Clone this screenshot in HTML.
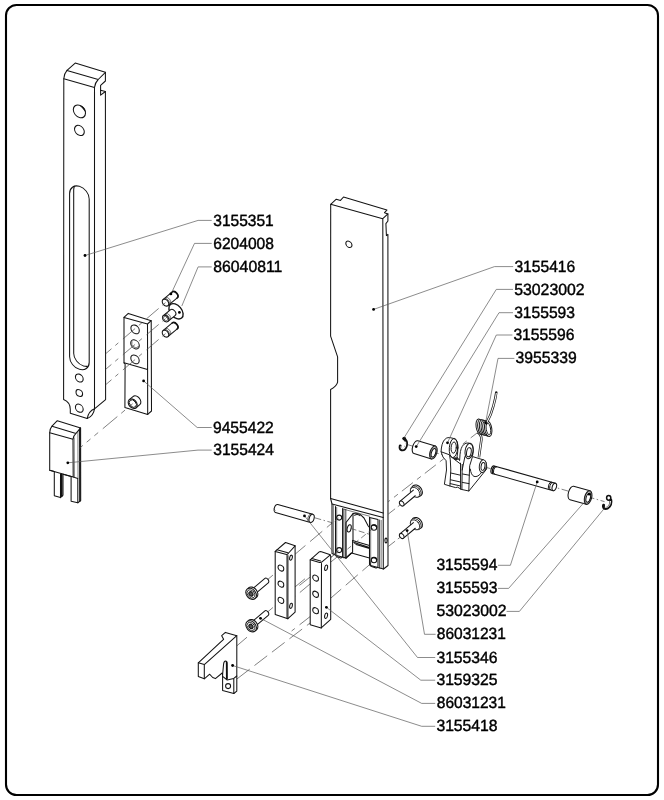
<!DOCTYPE html>
<html>
<head>
<meta charset="utf-8">
<title>Exploded view</title>
<style>
html,body{margin:0;padding:0;background:#fff;}
body{width:664px;height:800px;overflow:hidden;font-family:"Liberation Sans",sans-serif;}
svg{display:block;filter:grayscale(1);}
.p{fill:#fff;stroke:#141414;stroke-width:1.05;stroke-linejoin:round;stroke-linecap:round;}
.l{fill:none;stroke:#141414;stroke-width:1.05;stroke-linejoin:round;stroke-linecap:round;}
.t{fill:none;stroke:#2a2a2a;stroke-width:0.6;stroke-linecap:round;}
.k{fill:none;stroke:#111;stroke-width:1.6;stroke-linecap:round;stroke-linejoin:round;}
.ld{fill:none;stroke:#5a5a5a;stroke-width:0.7;}
.ds{fill:none;stroke:#4a4a4a;stroke-width:0.7;stroke-dasharray:16 6;}
.dd{fill:none;stroke:#4a4a4a;stroke-width:0.7;stroke-dasharray:7 2.5 1.5 2.5;}
.dot{fill:#000;stroke:none;}
#lever .p,#lever .l{stroke-width:0.95;}
text{font-family:"Liberation Sans",sans-serif;font-size:16.2px;fill:#000;stroke:#000;stroke-width:0.42;text-rendering:geometricPrecision;}
</style>
</head>
<body>
<svg width="664" height="800" viewBox="0 0 664 800">
<rect x="0" y="0" width="664" height="800" fill="#fff"/>
<rect x="6" y="5" width="652" height="790" rx="10.5" ry="10.5" fill="#fff" stroke="#000" stroke-width="2.1"/>

<!-- ===== DASHED ASSEMBLY LINES ===== -->
<g id="dashes">

<path class="dd" d="M314.4,517.7 L331,522.4 L349,527.8 L369.4,534.2"/>
<path class="ds" d="M373.6,527.8 L353.4,544" style="stroke-dashoffset:4"/>
<path class="ds" d="M339.1,517.1 L292,556.8"/>
<path class="ds" d="M339.1,550.9 L293.7,588"/>
<path class="ds" d="M374.5,527 L329.6,563"/>
<path class="ds" d="M374.5,560.4 L330.6,598.3"/>
<path class="ds" d="M310.4,576.8 L295.4,588.6" style="stroke-dashoffset:2"/>
<path class="ds" d="M310.6,583.5 L291.6,599.4" style="stroke-dashoffset:2"/>
<path class="dd" d="M267.6,579.6 L275.4,573"/>
<path class="dd" d="M267.6,612 L275.4,605.4"/>
<path class="ds" d="M237,645.7 L247,637.2"/>
<path class="ds" d="M237,678.9 L310.6,622.6"/>
<path class="ds" d="M310.6,616.2 L291.6,631" style="stroke-dashoffset:2"/>

<path class="dd" d="M406,444.2 L604.5,501.6"/>
<path class="ds" d="M477,433 L388.4,501.6" style="stroke-dasharray:14 5 5 5;stroke-dashoffset:6"/>
<path class="ds" d="M401,504.2 L388.4,514" style="stroke-dasharray:4 3.5 12"/>
<path class="ds" d="M401,536.6 L388.4,546.4" style="stroke-dasharray:4 3.5 12"/>

</g>

<!-- ===== PARTS ===== -->
<g id="parts">

<!-- ===== BAR 3155351 ===== -->
<g id="bar">
<path class="p" d="M63.8,78.8 Q64.2,73.4 67,70.4 L75.2,63.1 L105.4,72.3 L105.4,81 L100.6,85.3 L100.6,95.2 L105.4,91.5 L105.6,399.6 L94.5,408.8 Q88.6,411.2 87.2,418.5 L70.3,413.3 L70.3,409.6 Q70.3,402.2 63.6,399.6 Z"/>
<path class="l" d="M67,70.4 L98.2,79.5 L105.4,72.3 M63.8,78.8 L94.5,87.5 Q95.2,82.4 98.2,79.5 M94.5,87.5 L94.5,408.8 M100.6,90.2 L105.4,91.5"/>
<path class="l" d="M94.5,408.8 Q93.4,416 87.2,418.5"/>
<clipPath id="slotc"><path transform="translate(63.8,78.8) skewY(16.2)" d="M5.8,112.8 A9.8,9.8 0 0 1 25.4,112.8 L25.4,276.2 A9.8,9.8 0 0 1 5.8,276.2 Z"/></clipPath>
<g clip-path="url(#slotc)"><path class="l" transform="translate(67.9,75.4) skewY(16.2)" d="M5.8,112.8 A9.8,9.8 0 0 1 25.4,112.8 L25.4,276.2 A9.8,9.8 0 0 1 5.8,276.2 Z"/></g>
<g transform="translate(63.8,78.8) skewY(16.2)">
<path class="l" d="M5.8,112.8 A9.8,9.8 0 0 1 25.4,112.8 L25.4,276.2 A9.8,9.8 0 0 1 5.8,276.2 Z"/>
<circle class="l" cx="15.6" cy="28" r="6.1"/>
<circle class="l" cx="15.6" cy="47.1" r="4.9"/>
<circle class="l" cx="15.5" cy="294.7" r="3.9"/>
<circle class="l" cx="15.5" cy="309.7" r="3.3"/>
<circle class="l" cx="15.5" cy="324.9" r="3.9"/>
</g>
<path d="M80,105.5 Q84.8,106.6 85.3,111.6 Q82.4,107.6 80,105.5 Z" fill="#111" stroke="#111" stroke-width="0.6" stroke-linejoin="round"/>
</g>

<!-- ===== PLATE 9455422 ===== -->
<g id="plate">
<path class="p" d="M124,317.4 L128.3,313.4 L151.2,320.7 L151.5,411 L147.7,414.4 L124.9,407.5 L125.1,364 L124,362.8 Z"/>
<path class="l" d="M124,317.4 L147.5,324 L151.2,320.7 M147.5,324 L147.7,414.4 M124,362.8 L147.5,369.5"/>
<g transform="translate(124,317.4) skewY(16.2)">
<circle class="l" cx="11.1" cy="8.7" r="4.2"/>
<circle class="l" cx="11" cy="23.8" r="4.3"/>
<path class="t" d="M7.9,22 A3.4,3.4 0 1 0 14.6,24.6"/>
<circle class="l" cx="11" cy="38.8" r="4.2"/>
</g>
</g>


<!-- boss on plate -->
<g id="boss" transform="translate(132.7,403.7) rotate(-40)">
<path class="p" d="M0,-5.3 L4.8,-5.3 A3.8,5.3 0 0 1 4.8,5.3 L0,5.3 Z"/>
<ellipse class="p" cx="0" cy="0" rx="3.9" ry="5.3"/>
<ellipse class="t" cx="0.2" cy="0" rx="3" ry="4.2" style="stroke-width:0.9;stroke:#141414"/>
</g>

<!-- ===== SET SCREWS 6204008 / 86040811 ===== -->
<g id="ss1" transform="translate(165.5,302.6) rotate(-39.7)">
<path class="p" d="M0,-3.9 L11.6,-3.9 A2.8,3.9 0 0 1 11.6,3.9 L0,3.9 Z"/>
<path class="k" d="M11.9,-3.9 A2.8,3.9 0 0 1 11.9,3.9" style="stroke-width:1.6"/>
<ellipse class="p" cx="0" cy="0" rx="2.8" ry="3.9"/>
<path class="t" d="M1.6,-3.8 A2.8,3.9 0 0 1 1.6,3.8 M2.6,-3.9 A2.8,3.9 0 0 1 2.6,3.9"/>
</g>
<g id="ss2">
<g transform="translate(176,311.3) rotate(-39.7)">
<ellipse class="p" cx="0" cy="0" rx="5.7" ry="8.8" style="stroke-width:1.4"/>
</g>
<g transform="translate(165.6,318.6) rotate(-39.7)">
<path class="p" d="M0,-3.7 L9.2,-3.7 A2.7,3.7 0 0 1 9.2,3.7 L0,3.7 Z"/>
<ellipse class="p" cx="0" cy="0" rx="2.7" ry="3.7"/>
<path class="t" d="M1.6,-3.6 A2.7,3.7 0 0 1 1.6,3.6 M2.6,-3.7 A2.7,3.7 0 0 1 2.6,3.7"/>
<ellipse class="t" cx="0" cy="0" rx="1.8" ry="2.5"/>
</g>
</g>
<g id="ss3" transform="translate(165.5,333.6) rotate(-39.7)">
<path class="p" d="M0,-3.9 L11.6,-3.9 A2.8,3.9 0 0 1 11.6,3.9 L0,3.9 Z"/>
<path class="k" d="M11.9,-3.9 A2.8,3.9 0 0 1 11.9,3.9" style="stroke-width:1.6"/>
<ellipse class="p" cx="0" cy="0" rx="2.8" ry="3.9"/>
<path class="t" d="M1.6,-3.8 A2.8,3.9 0 0 1 1.6,3.8 M2.6,-3.9 A2.8,3.9 0 0 1 2.6,3.9"/>
</g>


<!-- ===== MAIN BAR 3155416 ===== -->
<g id="mainbar">
<path class="p" d="M330.7,204.3 L336.3,199.2 L340.5,200.4 L343.5,197 L386.9,210.1 L384.5,212.7 L387.9,213.9 L387.9,221 L385.9,223.6 L386.4,235.6 L387.9,234.4 L388,565.5 L383.5,569 L370.6,565.6 L369.5,558 L351.5,553 L346,558 L336.6,555.6 L332,553.6 L332,504 L330.6,498.5 L330.6,389.5 Q336.6,386.6 337.6,382.2 L337.6,356.9 L330.6,336.1 Z"/>
<path class="l" d="M330.7,204.3 L382.8,218.7 L387.9,213.9 M382.8,218.7 L383.3,569"/>
<circle class="l" cx="0" cy="0" r="3.1" transform="translate(348.9,244.3) skewY(16.2)"/>
<!-- bottom section -->
<path class="l" d="M330.6,498.5 L383.2,513 M332,504 L383.2,517.5"/>
<path class="t" d="M333.4,505 L333.5,554.4"/>
<!-- left rail -->
<path class="l" d="M335.5,506.4 L335.5,554.6 Q335.8,556.4 337.6,557 L340.6,557.9 Q342.6,558 342.6,556 L342.6,508.6"/>
<path class="t" d="M336.7,507.4 L336.7,555.4"/>
<path class="l" d="M343.9,509 L343.9,558" style="stroke-width:0.8"/><path class="l" d="M345.8,509.4 L345.8,558.2" style="stroke-width:0.8"/>
<circle class="l" cx="339.2" cy="517.6" r="2.5"/>
<circle class="l" cx="339.2" cy="550.1" r="2.5"/>
<!-- cavity top back edge -->
<path class="t" d="M343.7,509.2 L369.5,516.2"/>
<!-- center bracket -->
<path class="l" d="M346,558 L346,522.5 L353,513.6 Q357,512.4 360.4,514.6 L364,518 L368.2,526 L369.5,527.4"/>
<path class="l" d="M353,513.8 L353,540.2 M354.6,515.2 Q357.4,513.8 360,515.6"/>
<path class="l" d="M352.6,540.4 L369.5,545.4 M354,542.6 L369.5,547.4 M356,544.4 L369.5,548.6"/>
<path class="l" d="M352.6,540.4 L352.6,552.6 M351.5,553 L346,558"/>
<path class="t" d="M352.8,541 Q353.2,543.4 355.4,543.6"/>
<ellipse class="l" cx="349.2" cy="528.4" rx="1.9" ry="3.7" transform="rotate(14 349.2 528.4)"/>
<!-- right rail -->
<path class="l" d="M369.5,517.4 L369.5,564.4 Q369.8,566 371.6,566.6 L376,567.9 Q378,568 378,566 L378,519.6 Z"/>
<path class="t" d="M370.7,518.6 L370.7,565.6"/>
<path class="l" d="M379.6,520 L379.6,568" style="stroke-width:0.8"/><path class="t" d="M381.2,520.4 L381.2,568.4"/>
<circle class="l" cx="374" cy="527.5" r="2.7"/>
<circle class="l" cx="374" cy="560.1" r="2.7"/>
<path class="k" d="M372.2,525.4 Q375.4,524.2 376.7,527" style="stroke-width:1.3"/>
<path class="k" d="M372.2,558 Q375.4,556.8 376.7,559.6" style="stroke-width:1.3"/>
<ellipse class="l" cx="386" cy="540.5" rx="1.1" ry="2.4"/>
</g>


<!-- ===== CLIP 1 (53023002) ===== -->
<g id="clip1">
<path d="M404,438.6 Q407.4,441 406.4,445.6 Q405,450.4 401.8,449.8 Q399.6,449 400.2,446" fill="none" stroke="#111" stroke-width="2.9" stroke-linecap="round"/>
<path d="M405.6,442 Q406,443.8 405.4,445.8 Q404.4,449.2 402,448.8 Q400.8,448.2 401,446.6" fill="none" stroke="#fff" stroke-width="1.1" stroke-linecap="round"/>
<circle cx="404.2" cy="438.6" r="1.8" fill="#111"/>
</g>

<!-- ===== BUSHING 1 (3155593) ===== -->
<g id="bush1" transform="translate(415.9,447.2) rotate(16.8)">
<path class="p" d="M0,-6.7 L18.3,-6.7 L18.3,6.7 L0,6.7 A3.3,6.7 0 0 1 0,-6.7 Z"/>
<ellipse class="p" cx="18.3" cy="0" rx="3.4" ry="6.7"/>
<ellipse class="t" cx="18.1" cy="0" rx="2.8" ry="5.7"/>
<ellipse class="l" cx="18.5" cy="0.2" rx="2.1" ry="4.4"/>
</g>

<!-- ===== SPRING (3955339) ===== -->
<g id="spring">
<path d="M477.6,432.4 Q481.6,434.6 481.4,439.6 L478.9,457.4" fill="none" stroke="#1a1a1a" stroke-width="2.5" stroke-linecap="butt"/>
<path d="M477.6,432.4 Q481.6,434.6 481.4,439.6 L478.9,457.6" fill="none" stroke="#fff" stroke-width="1.05" stroke-linecap="butt"/>
<g class="p" style="stroke-width:0.95">
<ellipse cx="479.6" cy="426.7" rx="3.5" ry="7.8" transform="rotate(-9 479.6 426.7)"/>
<ellipse cx="481.3" cy="427.1" rx="3.5" ry="7.8" transform="rotate(-9 481.3 427.1)"/>
<ellipse cx="483" cy="427.5" rx="3.5" ry="7.8" transform="rotate(-9 483 427.5)"/>
<ellipse cx="484.7" cy="427.9" rx="3.5" ry="7.8" transform="rotate(-9 484.7 427.9)"/>
<ellipse cx="486.4" cy="428.3" rx="3.5" ry="7.8" transform="rotate(-9 486.4 428.3)"/>
<ellipse cx="488.2" cy="428.7" rx="3.6" ry="7.9" transform="rotate(-9 488.2 428.7)"/>
</g>
<ellipse class="l" cx="488.4" cy="428.9" rx="2.2" ry="5.9" transform="rotate(-9 488.4 428.9)" style="stroke-width:0.9"/>
<path d="M486.4,423.4 Q491.4,414.4 493.4,406 Q495.6,398 496.3,392.4" fill="none" stroke="#1a1a1a" stroke-width="2.5" stroke-linecap="round"/>
<path d="M486.6,423 Q491.4,414.4 493.4,406 Q495.6,398 496.3,393" fill="none" stroke="#fff" stroke-width="1.05" stroke-linecap="butt"/>
</g>

<!-- ===== LEVER (3155596) ===== -->
<g id="lever">
<path class="p" d="M441.1,451.4 Q441.4,443.6 444.4,439.8 Q446.6,437.2 449.4,437.5 L453.4,438.4 Q457.6,439.6 457.9,446 Q458,452 457,457 L459.6,460.6 L460,454.8 Q460.6,447.6 463.6,444.6 Q466,442.6 468.4,443 L470,443.5 Q473.4,444.8 473.3,450 Q473.2,454 472.3,456.5 L483.2,459.8 Q486.8,461.2 486.7,466 L486.6,469.1 L468.9,491 L461.3,489.4 L457.7,487.2 L455.6,487.6 L449.9,486 L444.4,484.3 L446.5,470 L446.1,460.7 L443.2,457.3 Z"/>
<!-- arm + boss -->
<path class="l" d="M481.5,472.5 Q478,477.6 474,476.4 Q471,475 470.3,469.1"/>
<ellipse class="p" cx="482.8" cy="466.2" rx="3.5" ry="6.4" transform="rotate(8 482.8 466.2)"/>
<ellipse class="l" cx="483" cy="466.4" rx="1.9" ry="4" transform="rotate(8 483 466.4)"/>
<!-- right lug -->
<ellipse class="l" cx="469.1" cy="451" rx="4" ry="7.8" transform="rotate(9 469.1 451)"/>
<ellipse class="l" cx="468.9" cy="452.2" rx="2.3" ry="4.6" transform="rotate(9 468.9 452.2)"/>
<path class="l" d="M464.9,456.6 L463.4,464 L462.2,470 M472.3,457.3 L469.7,465.7 L469.3,475 L468.8,491"/>
<path class="l" d="M462.6,474 L469.3,475.2 M462.3,482.4 L469,483.6"/>
<!-- centre double vertical -->
<path class="l" d="M460.5,463.2 L460.6,489.2 M462.2,464.4 L461.9,489.6"/>
<!-- left lug -->
<ellipse class="l" cx="453.5" cy="448" rx="4.2" ry="9.6" transform="rotate(5 453.5 448)"/>
<ellipse class="l" cx="453.7" cy="447.6" rx="2.6" ry="5.6" transform="rotate(5 453.7 447.6)"/>
<path class="l" d="M441.2,451.8 L449.5,454.8 L450.3,459.8 L450.8,470 L449.9,486"/>
<path class="l" d="M450.6,456.4 L460.5,464"/>
<path class="l" d="M450.8,473 L460.5,475.2 M450.6,479.8 L460.5,482 M450.2,483.6 L460.5,486"/>
<path d="M452.6,457.4 L457,457.2 L458.6,459.4 L455.6,460.2 Z" fill="#222" stroke="none"/>
</g>

<!-- ===== PIN (3155594) ===== -->
<g id="pin94" transform="translate(493.1,469.7) rotate(15.7)">
<path class="p" d="M0,-3.9 L63.6,-3.9 L63.6,3.9 L0,3.9 A2,3.9 0 0 1 0,-3.9 Z"/>
<ellipse class="p" cx="63.6" cy="0" rx="2.1" ry="3.9"/>
<path class="l" d="M2.6,-3.9 A2,3.9 0 0 0 2.6,3.9 M59.6,-3.9 A2,3.9 0 0 0 59.6,3.9 M61,-3.9 A2,3.9 0 0 0 61,3.9" style="stroke-width:0.9"/>
<path class="k" d="M0.8,-3.7 A2,3.9 0 0 0 0.8,3.7" style="stroke-width:1.3"/>
</g>

<!-- ===== BUSHING 2 (3155593) ===== -->
<g id="bush2" transform="translate(571.8,493.1) rotate(15.2)">
<path class="p" d="M0,-7 L16.9,-7 L16.9,7 L0,7 A3.4,7 0 0 1 0,-7 Z"/>
<ellipse class="p" cx="16.9" cy="0" rx="3.5" ry="7"/>
<ellipse class="t" cx="16.7" cy="0" rx="2.9" ry="6"/>
<ellipse class="l" cx="17.1" cy="0.2" rx="2.1" ry="4.6"/>
</g>

<!-- ===== CLIP 2 (53023002) ===== -->
<g id="clip2">
<path d="M610.8,500 Q611.4,503.6 609.4,506.4 Q607.4,509 604.6,508.4 Q603,507.4 603.6,505.2" fill="none" stroke="#111" stroke-width="2.9" stroke-linecap="round"/>
<path d="M610.6,501.4 Q610.4,504.6 608.4,506.6 Q606.8,507.8 605.2,507.4" fill="none" stroke="#fff" stroke-width="0.9" stroke-linecap="round"/>
<ellipse cx="608.7" cy="497.8" rx="2.1" ry="2.4" fill="#fff" stroke="#111" stroke-width="1.5"/>
</g>

<!-- ===== BOLTS 86031231 (right pair) ===== -->
<g id="boltA" transform="translate(401.7,503.5) rotate(-40)">
<ellipse class="p" cx="20.2" cy="0" rx="4.4" ry="6.3"/>
<ellipse class="p" cx="18.6" cy="0" rx="4.4" ry="6.3" style="stroke-width:0.8"/>
<ellipse class="p" cx="17.4" cy="0" rx="4" ry="5.6" style="stroke-width:0.8"/>
<path class="p" d="M0,-2.8 L17,-2.8 L17,2.8 L0,2.8 Z" style="stroke:none"/>
<path class="l" d="M0,-2.8 L17.6,-2.8 M0,2.8 L15.4,2.8"/>
<ellipse class="p" cx="0" cy="0" rx="2" ry="2.8"/>
</g>
<g id="boltB" transform="translate(401.7,536) rotate(-40)">
<ellipse class="p" cx="20.2" cy="0" rx="4.4" ry="6.3"/>
<ellipse class="p" cx="18.6" cy="0" rx="4.4" ry="6.3" style="stroke-width:0.8"/>
<ellipse class="p" cx="17.4" cy="0" rx="4" ry="5.6" style="stroke-width:0.8"/>
<path class="p" d="M0,-2.8 L17,-2.8 L17,2.8 L0,2.8 Z" style="stroke:none"/>
<path class="l" d="M0,-2.8 L17.6,-2.8 M0,2.8 L15.4,2.8"/>
<ellipse class="p" cx="0" cy="0" rx="2" ry="2.8"/>
</g>


<!-- ===== PIN 3155346 ===== -->
<g id="pin46" transform="translate(276.6,508.5) rotate(15.8)">
<path class="p" d="M0,-4.2 L36.4,-4.2 L36.4,4.2 L0,4.2 A2.3,4.2 0 0 1 0,-4.2 Z"/>
<ellipse class="p" cx="36.4" cy="0" rx="2.4" ry="4.2"/>
<path class="t" d="M35,-4.2 A2.4,4.2 0 0 0 35,4.2"/>
<path class="t" d="M-2.1,1.2 L-1,2.2"/>
</g>

<!-- ===== BLOCK A (3159325) ===== -->
<g id="blockA">
<path class="p" d="M275.2,551.4 L285.5,542.5 L295.1,545.8 L295.1,612.1 L287.9,618.7 L275.2,614.5 Z"/>
<path class="l" d="M275.2,551.4 L286.6,554.6 Q288,554.4 288.6,553 L295.1,545.8 M287.9,555.4 L287.9,618.7 M277,549.8 L287.8,552.8" />
<path class="l" d="M286.9,555 L286.9,618.2" style="stroke-width:0.8"/>
<g transform="translate(275.2,551.4) skewY(16.2)">
<circle class="l" cx="5.7" cy="15" r="2.9"/>
<circle class="l" cx="5.7" cy="31.1" r="2.9"/>
<circle class="l" cx="5.7" cy="47.3" r="2.9"/>
</g>
<ellipse class="l" cx="291" cy="557.7" rx="1.3" ry="2.6" transform="rotate(12 291 557.7)"/>
<ellipse class="l" cx="291" cy="605.8" rx="1.3" ry="2.6" transform="rotate(12 291 605.8)"/>
</g>

<!-- ===== BLOCK B (3159325) ===== -->
<g id="blockB">
<path class="p" d="M310.2,559.8 L319.2,551.9 Q320,551.4 321.4,551.8 L329.6,554.4 Q330.7,554.8 330.7,556.4 L330.7,619.3 L321.2,627.9 L310.2,624.8 Z"/>
<path class="l" d="M310.2,559.8 L319.6,562.4 Q321.4,562.6 322.6,561.4 L330.3,554.8 M321.5,563.4 L321.3,627.9 M311.8,558.4 L320.6,560.9"/>
<g transform="translate(310.2,559.8) skewY(16.2)">
<circle class="l" cx="5.4" cy="16.7" r="2.9"/>
<circle class="l" cx="5.4" cy="32.9" r="2.9"/>
<circle class="l" cx="5.4" cy="49.3" r="2.9"/>
</g>
<ellipse class="l" cx="326.1" cy="567.8" rx="1.4" ry="2.8" transform="rotate(12 326.1 567.8)"/>
<ellipse class="l" cx="326.1" cy="615.7" rx="1.4" ry="2.8" transform="rotate(12 326.1 615.7)"/>
</g>

<!-- ===== BOLTS 86031231 (left pair) ===== -->
<g id="boltC" transform="translate(251.1,593.8) rotate(-40.6)">
<path class="p" d="M3,-2.8 L20.2,-2.8 A2,2.8 0 0 1 20.2,2.8 L3,2.8 Z"/>
<ellipse class="p" cx="1.9" cy="0" rx="4.6" ry="6.2"/>
<ellipse class="p" cx="0" cy="0" rx="4.6" ry="6.2"/>
<ellipse class="l" cx="-0.2" cy="0" rx="3.4" ry="4.6" style="stroke-width:0.8"/>
<ellipse cx="-0.2" cy="0" rx="1.8" ry="2.4" fill="#555" stroke="#111" stroke-width="1"/>
</g>
<g id="boltD" transform="translate(251.1,626.3) rotate(-40.6)">
<path class="p" d="M3,-2.8 L20.2,-2.8 A2,2.8 0 0 1 20.2,2.8 L3,2.8 Z"/>
<ellipse class="p" cx="1.9" cy="0" rx="4.6" ry="6.2"/>
<ellipse class="p" cx="0" cy="0" rx="4.6" ry="6.2"/>
<ellipse class="l" cx="-0.2" cy="0" rx="3.4" ry="4.6" style="stroke-width:0.8"/>
<ellipse cx="-0.2" cy="0" rx="1.8" ry="2.4" fill="#555" stroke="#111" stroke-width="1"/>
</g>

<!-- ===== BRACKET 3155418 ===== -->
<g id="bracket18">
<path class="p" d="M225.4,632.4 L236.8,635.7 L236.8,691.1 L233.8,693.5 L222.6,690.5 L222.6,674.4 L222.2,673 L215.4,678.6 Q212.4,678 209.7,674.2 L204.3,678.8 L198.3,676.6 L198.3,662.8 L221.1,641.7 L223.6,639.3 L221.7,635.7 Z"/>
<path class="l" d="M236.8,635.7 L204.3,664.6 L198.3,662.8 M204.3,664.6 L204.3,678.8"/>
<path class="l" d="M222.6,674.4 L223.6,664 Q223.9,661.2 225.6,661 Q227,661 227.1,663.6 L227.2,679"/>
<path class="k" d="M226.6,662 L226.7,678.6" style="stroke-width:1.5"/>
<path class="l" d="M222.6,676.4 L227.2,680 L230.4,679.2 L233.8,678.4 L233.8,693.5 M233.8,678.4 L236.8,676"/>
<circle class="l" cx="228.1" cy="686.1" r="2.5"/>
</g>

<!-- ===== BLOCK 3155424 ===== -->
<g id="block24">
<path class="p" d="M49.7,432.7 Q49.9,428.6 52,426.2 L57.3,420.7 L80.6,427.9 L80.7,500.6 L77.8,502.7 L71.1,501.2 L71.1,476.5 L63,474.2 L63,495.2 L60.5,497.6 L54.3,495.8 L54.3,471.6 L49.7,470.2 Z"/>
<path class="l" d="M52,426.2 L76,433.4 L80.6,427.9 M49.7,432.7 L73,439.3 Q73.6,435.4 76,433.4 M73,439.3 L73.2,477.1 M49.7,470.2 L73.2,477.1 M60.5,474 L60.5,497.6 M77.8,478.4 L77.8,502.7 M73.2,477.1 L77.8,478.4"/>
<path class="t" d="M77.9,431.4 L78,478.4"/><path class="l" d="M79.8,429 L79.9,501" style="stroke-width:1.5"/>
<path class="t" d="M74.2,438 L74.4,477.4"/>
<path class="k" d="M61.7,474.4 L61.8,496.2"/>
</g>
</g>


<!-- dashes drawn over parts -->
<g id="dashes2">
<path class="ds" d="M165.5,302.6 L105.8,353.6" style="stroke-dasharray:4 5 16 6;"/>
<path class="ds" d="M165.6,318.6 L105.8,369.2" style="stroke-dasharray:4 5 16 6;"/>
<path class="ds" d="M165.5,333.6 L105.8,384.6" style="stroke-dasharray:4 5 16 6;"/>
<path class="ds" d="M132.7,403.7 L79.5,448.2" style="stroke-dasharray:5 5 5 5 19 6;"/>
<path class="ds" d="M373.2,528.2 L347.4,549.2" style="stroke-dasharray:6 3.5"/>
<path class="dd" d="M350.6,528.4 L369.2,534.2" style="stroke-dasharray:6 2.5"/>
<path class="ds" d="M338.6,518 L331,524.4" style="stroke-dasharray:5 3"/>
<path class="ds" d="M338.6,550.6 L331,557" style="stroke-dasharray:5 3"/>
</g>

<!-- ===== LEADERS ===== -->
<g id="leaders" class="ld">
<polyline points="211.7,220.4 198.1,220.4 85,255.5"/>
<polyline points="211.7,243.4 194.5,243.4 172.4,291"/>
<polyline points="211.7,266.9 198.1,266.9 181.8,306"/>
<polyline points="211.7,427.5 197.2,427.5 143.6,380.9"/>
<polyline points="211.7,450.1 198,450.1 67.8,462.8"/>
<polyline points="513.2,266.6 494.5,266.6 373.6,309.4"/>
<polyline points="513,289.4 496.3,289.4 404.2,437.6"/>
<polyline points="513,312.7 499,312.7 416.4,446.4"/>
<polyline points="512.4,335 496.3,335 447.5,442.8"/>
<polyline points="514.4,358.4 498,358.4 485.6,422.6"/>
<polyline points="498,565.3 510.4,565.3 537.2,481.9"/>
<polyline points="498,588.4 508.6,588.4 584,502.5"/>
<polyline points="506.6,611.4 519.4,611.4 604,508.8"/>
<polyline points="435.6,634.3 424.5,634.3 407.1,530.6"/>
<polyline points="435.2,657.5 417.5,657.5 304.5,515.9"/>
<polyline points="435.2,680.2 420.8,680.2 326.4,607.3"/>
<polyline points="435.2,703.4 421.7,703.4 260.5,618.3"/>
<polyline points="435.2,726.3 421.7,726.3 232.6,665.5"/>
</g>

<!-- ===== DOTS ===== -->
<g id="dots" class="dot">
<circle cx="85" cy="255.5" r="1.4"/>
<circle cx="170.9" cy="293.9" r="1.4"/>
<circle cx="179.4" cy="312.4" r="1.4"/>
<circle cx="143.6" cy="380.9" r="1.4"/>
<circle cx="67.8" cy="462.8" r="1.4"/>
<circle cx="373.6" cy="309.4" r="1.4"/>
<circle cx="416.2" cy="446.6" r="1.4"/>
<circle cx="447.5" cy="442.8" r="1.4"/>
<circle cx="485.6" cy="422.6" r="1.3"/>
<circle cx="537.2" cy="481.9" r="1.4"/>
<circle cx="589.1" cy="494.2" r="1.4"/>
<circle cx="407.1" cy="530.6" r="1.4"/>
<circle cx="304.5" cy="515.9" r="1.4"/>
<circle cx="326.4" cy="607.3" r="1.4"/>
<circle cx="260.5" cy="618.3" r="1.4"/>
<circle cx="232.6" cy="665.5" r="1.4"/>
</g>

<!-- ===== LABELS ===== -->
<g id="labels" transform="translate(0,0.4)" opacity="0.999">
<text x="213.3" y="225.4" textLength="60.4" lengthAdjust="spacingAndGlyphs">3155351</text>
<text x="213.3" y="248.4" textLength="60.6" lengthAdjust="spacingAndGlyphs">6204008</text>
<text x="213.3" y="271.2" textLength="69" lengthAdjust="spacingAndGlyphs">86040811</text>
<text x="213" y="432.2" textLength="60.8" lengthAdjust="spacingAndGlyphs">9455422</text>
<text x="213.3" y="454.8" textLength="60.6" lengthAdjust="spacingAndGlyphs">3155424</text>
<text x="514.4" y="271.4" textLength="60.8" lengthAdjust="spacingAndGlyphs">3155416</text>
<text x="514.2" y="294.4" textLength="70.4" lengthAdjust="spacingAndGlyphs">53023002</text>
<text x="514.2" y="317.3" textLength="60.8" lengthAdjust="spacingAndGlyphs">3155593</text>
<text x="513.4" y="340" textLength="61" lengthAdjust="spacingAndGlyphs">3155596</text>
<text x="515.6" y="363" textLength="61.2" lengthAdjust="spacingAndGlyphs">3955339</text>
<text x="436.4" y="569.9" textLength="61" lengthAdjust="spacingAndGlyphs">3155594</text>
<text x="436.4" y="592.9" textLength="61" lengthAdjust="spacingAndGlyphs">3155593</text>
<text x="436.4" y="615.6" textLength="70.2" lengthAdjust="spacingAndGlyphs">53023002</text>
<text x="436.8" y="638.8" textLength="69" lengthAdjust="spacingAndGlyphs">86031231</text>
<text x="436.4" y="662.2" textLength="61.2" lengthAdjust="spacingAndGlyphs">3155346</text>
<text x="436.4" y="684.9" textLength="61.2" lengthAdjust="spacingAndGlyphs">3159325</text>
<text x="436.8" y="708.1" textLength="69" lengthAdjust="spacingAndGlyphs">86031231</text>
<text x="436.4" y="730.8" textLength="61.2" lengthAdjust="spacingAndGlyphs">3155418</text>
</g>
</svg>
</body>
</html>
